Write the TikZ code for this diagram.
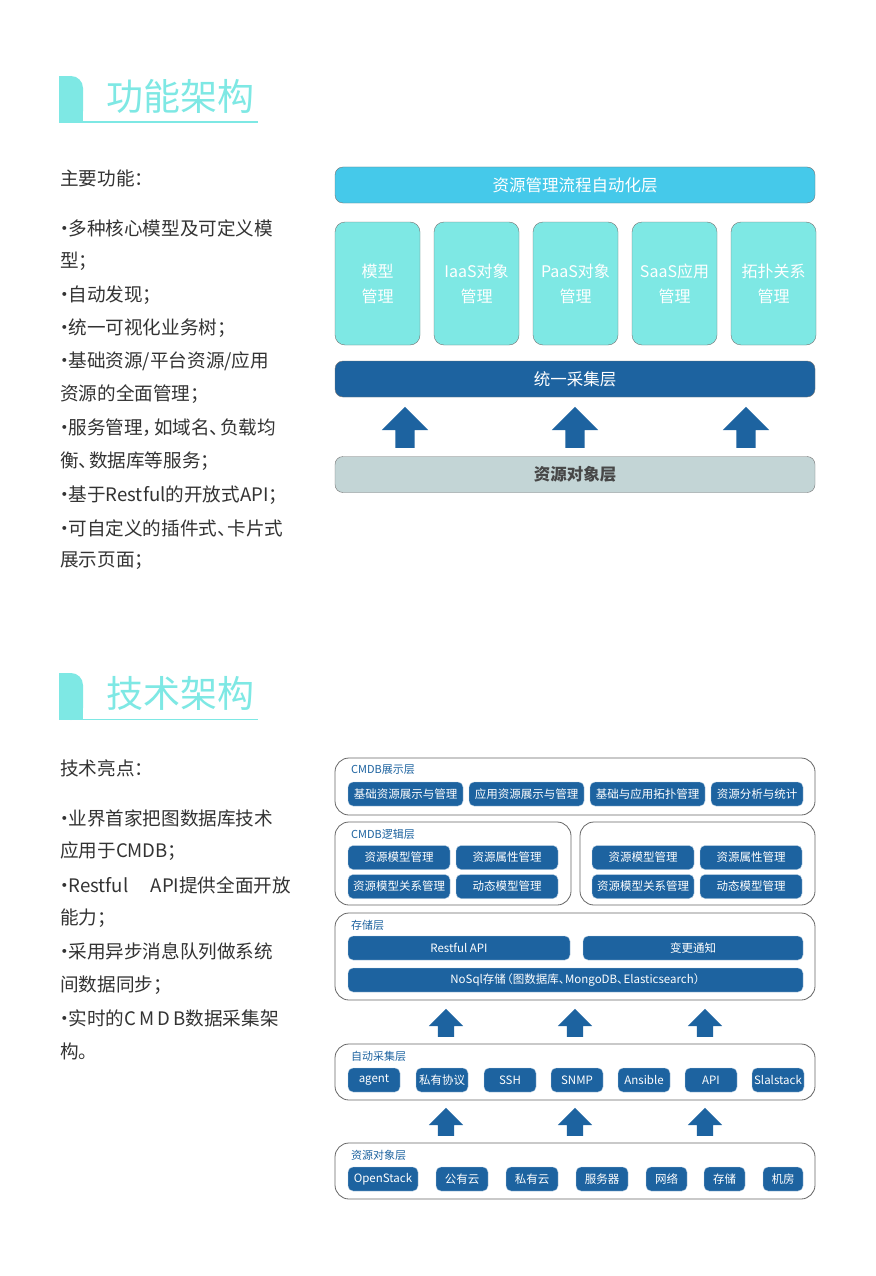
\documentclass[tikz,border=0pt]{standalone}
\usepackage{fontspec}
\setmainfont{Noto Sans CJK SC}
\usepackage{xcolor}
\usepackage{tikz}
\usetikzlibrary{shapes,arrows,positioning}

\definecolor{titlecyan}{HTML}{7EE8E4}
\definecolor{barcyan}{HTML}{45C9EA}
\definecolor{boxcyan}{HTML}{7EE8E4}
\definecolor{dkblue}{HTML}{1D63A0}
\definecolor{objgray}{HTML}{C3D5D6}
\definecolor{bodytext}{HTML}{333333}

% narrow punctuation for the text lists
\newcommand{\bdot}{\makebox[0.45em][c]{·}}
\newcommand{\bsep}{\makebox[0.55em][l]{、}}
\newcommand{\bcomma}{\makebox[0.6em][l]{，}}

\begin{document}
\begin{tikzpicture}[x=1pt, y=-1pt,
    heading/.style={font=\fontsize{37}{37}\selectfont, text=titlecyan, anchor=west, inner sep=0pt},
    bodyline/.style={font=\fontsize{18.6}{18.6}\selectfont, text=bodytext, anchor=west, inner sep=0pt},
    layer/.style={rectangle, draw=black!55, rounded corners=8pt, minimum width=480, minimum height=36, inner sep=0pt, font=\fontsize{16.5}{16.5}\selectfont, text=white},
    module/.style={rectangle, draw=black!55, fill=boxcyan, rounded corners=10pt, minimum width=85, minimum height=123, inner sep=0pt, font=\fontsize{16}{25}\selectfont, text=white, align=center},
    panel/.style={rectangle, draw=black!60, fill=white, rounded corners=14pt, inner sep=0pt, line width=0.8pt},
    panellabel/.style={font=\fontsize{11}{11}\selectfont, text=dkblue, anchor=west, inner sep=0pt},
    item/.style={rectangle, fill=dkblue, draw=dkblue!30, rounded corners=5pt, minimum height=24, inner sep=0pt, font=\fontsize{11.5}{11.5}\selectfont, text=white},
    bigup/.style={single arrow, fill=dkblue, rotate=90, anchor=tail, inner xsep=0pt, inner ysep=9.5pt, single arrow head extend=13.5pt, minimum height=41},
    smallup/.style={single arrow, fill=dkblue, rotate=90, anchor=tail, inner xsep=0pt, inner ysep=8pt, single arrow head extend=9pt, minimum height=28}
]
    \useasboundingbox[fill=white] (0,0) rectangle (875,1276);

    % ============ Heading: function ============
    \fill[titlecyan, rounded corners=12pt] (59,76) rectangle (83,123);
    \fill[titlecyan] (59,90) rectangle (83,123);
    \fill[titlecyan] (59,76) rectangle (70,123);
    \coordinate (lineA) at (83,122.3);
    \draw[titlecyan, line width=1.6pt] (lineA) -- ++(175,0);
    \node[heading] (titleA) at (106,96) {功能架构};

    % ============ Main functions text ============
    \node[bodyline] (funchead) at (60,178) {主要功能：};
    \node[bodyline] (f1) at (60,228) {\bdot 多种核心模型及可定义模};
    \node[bodyline] (f2) at (60,261) {型；};
    \node[bodyline] (f3) at (60,295) {\bdot 自动发现；};
    \node[bodyline] (f4) at (60,328) {\bdot 统一可视化业务树；};
    \node[bodyline] (f5) at (60,361) {\bdot 基础资源/平台资源/应用};
    \node[bodyline] (f6) at (60,394) {资源的全面管理；};
    \node[bodyline] (f7) at (60,428) {\bdot 服务管理\bcomma 如域名\bsep 负载均};
    \node[bodyline] (f8) at (60,461) {衡\bsep 数据库等服务；};
    \node[bodyline] (f9) at (60,495) {\bdot 基于Restful的开放式API；};
    \node[bodyline] (f10) at (60,528) {\bdot 可自定义的插件式\bsep 卡片式};
    \node[bodyline] (f11) at (60,561) {展示页面；};

    % ============ Function architecture ============
    \node[layer, fill=barcyan] (flow) at (575,185) {资源管理流程自动化层};
    \node[module] (model) at (377.5,283.5) {模型\\管理};
    \node[module] (iaas) at (476.5,283.5) {IaaS对象\\管理};
    \node[module] (paas) at (575.5,283.5) {PaaS对象\\管理};
    \node[module] (saas) at (674.5,283.5) {SaaS应用\\管理};
    \node[module] (topo) at (773.5,283.5) {拓扑关系\\管理};
    \node[layer, fill=dkblue] (collect) at (575,379) {统一采集层};
    \node[bigup] (upA) at (405,448) {};
    \node[bigup] (upB) at (575,448) {};
    \node[bigup] (upC) at (746,448) {};
    \node[layer, fill=objgray, text=black!72, font=\fontsize{16.5}{16.5}\selectfont\bfseries] (objlayer) at (575,474.5) {资源对象层};

    % ============ Heading: technology ============
    \fill[titlecyan, rounded corners=12pt] (59,673) rectangle (83,720);
    \fill[titlecyan] (59,687) rectangle (83,720);
    \fill[titlecyan] (59,673) rectangle (70,720);
    \coordinate (lineB) at (83,719.3);
    \draw[titlecyan, line width=1.6pt] (lineB) -- ++(175,0);
    \node[heading] (titleB) at (106,693) {技术架构};

    % ============ Tech highlights text ============
    \node[bodyline] (techhead) at (60,768) {技术亮点：};
    \node[bodyline] (t1) at (60,818) {\bdot 业界首家把图数据库技术};
    \node[bodyline] (t2) at (60,851) {应用于CMDB；};
    \node[bodyline] (t3) at (60,885) {\bdot Restful\hspace{1.2em}API提供全面开放};
    \node[bodyline] (t4) at (60,918) {能力；};
    \node[bodyline] (t5) at (60,951) {\bdot 采用异步消息队列做系统};
    \node[bodyline] (t6) at (60,985) {间数据同步；};
    \node[bodyline] (t7) at (60,1018) {\bdot 实时的C\,M\,D\,B数据采集架};
    \node[bodyline] (t8) at (60,1051) {构。};

    % ============ CMDB display layer ============
    \node[panel, minimum width=480, minimum height=57] (show) at (575,786.5) {};
    \node[panellabel] (showlbl) at (351,770) {CMDB展示层};
    \node[item, minimum width=115] (s1) at (405.5,794) {基础资源展示与管理};
    \node[item, minimum width=115] (s2) at (526.5,794) {应用资源展示与管理};
    \node[item, minimum width=115] (s3) at (647.5,794) {基础与应用拓扑管理};
    \node[item, minimum width=92] (s4) at (757,794) {资源分析与统计};

    % ============ CMDB logic layer ============
    \node[panel, minimum width=236, minimum height=83] (logicL) at (453,863.5) {};
    \node[panellabel] (logiclbl) at (351,834) {CMDB逻辑层};
    \node[item, minimum width=102] (l1) at (399,857.5) {资源模型管理};
    \node[item, minimum width=102] (l2) at (507,857.5) {资源属性管理};
    \node[item, minimum width=102] (l3) at (399,886.5) {资源模型关系管理};
    \node[item, minimum width=102] (l4) at (507,886.5) {动态模型管理};
    \node[panel, minimum width=235, minimum height=83] (logicR) at (697.5,863.5) {};
    \node[item, minimum width=102] (r1) at (643,857.5) {资源模型管理};
    \node[item, minimum width=102] (r2) at (751,857.5) {资源属性管理};
    \node[item, minimum width=102] (r3) at (643,886.5) {资源模型关系管理};
    \node[item, minimum width=102] (r4) at (751,886.5) {动态模型管理};

    % ============ Storage layer ============
    \node[panel, minimum width=480, minimum height=87] (store) at (575,956.5) {};
    \node[panellabel] (storelbl) at (351,925) {存储层};
    \node[item, minimum width=222] (rest) at (459,948) {Restful API};
    \node[item, minimum width=220] (notify) at (693,948) {变更通知};
    \node[item, minimum width=455] (nosql) at (575.5,980) {NoSql存储\makebox[0.6em][r]{（}图数据库\makebox[0.55em][l]{、}MongoDB\makebox[0.55em][l]{、}Elasticsearch\makebox[0.6em][l]{）}};

    \node[smallup] (upD) at (446,1037) {};
    \node[smallup] (upE) at (575,1037) {};
    \node[smallup] (upF) at (705,1037) {};

    % ============ Auto collection layer ============
    \node[panel, minimum width=480, minimum height=56] (auto) at (575,1072) {};
    \node[panellabel] (autolbl) at (351,1056) {自动采集层};
    \node[item, minimum width=52] (agent) at (374,1080) {agent};
    \node[item, minimum width=52] (priv) at (442,1080) {私有协议};
    \node[item, minimum width=52] (ssh) at (510,1080) {SSH};
    \node[item, minimum width=52] (snmp) at (577,1080) {SNMP};
    \node[item, minimum width=52] (ansible) at (644,1080) {Ansible};
    \node[item, minimum width=52] (api) at (711,1080) {API};
    \node[item, minimum width=52] (salt) at (778,1080) {Slalstack};

    \node[smallup] (upG) at (446,1136) {};
    \node[smallup] (upH) at (575,1136) {};
    \node[smallup] (upI) at (705,1136) {};

    % ============ Resource object layer ============
    \node[panel, minimum width=480, minimum height=56] (obj) at (575,1171) {};
    \node[panellabel] (objlbl) at (351,1155) {资源对象层};
    \node[item, minimum width=70] (openstack) at (383,1179) {OpenStack};
    \node[item, minimum width=52] (pubcloud) at (462,1179) {公有云};
    \node[item, minimum width=52] (privcloud) at (532,1179) {私有云};
    \node[item, minimum width=52] (server) at (602,1179) {服务器};
    \node[item, minimum width=41] (net) at (666.5,1179) {网络};
    \node[item, minimum width=41] (disk) at (724.5,1179) {存储};
    \node[item, minimum width=40] (room) at (783,1179) {机房};

\end{tikzpicture}
\end{document}
